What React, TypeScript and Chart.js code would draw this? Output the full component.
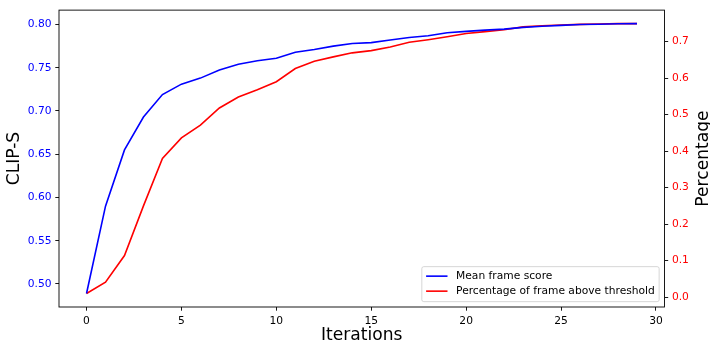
import React, { useEffect, useRef } from 'react';
import { Chart, registerables } from 'chart.js';

Chart.register(...registerables);

const ITERATIONS = [0, 1, 2, 3, 4, 5, 6, 7, 8, 9, 10, 11, 12, 13, 14, 15, 16, 17, 18, 19, 20, 21, 22, 23, 24, 25, 26, 27, 28, 29];
const MEAN_FRAME_SCORE = [0.489, 0.590, 0.655, 0.693, 0.719, 0.731, 0.738, 0.7475, 0.754, 0.758, 0.761, 0.768, 0.771, 0.775, 0.778, 0.779, 0.782, 0.785, 0.787, 0.7905, 0.792, 0.7935, 0.7946, 0.7966, 0.798, 0.799, 0.800, 0.8003, 0.8008, 0.801];
const PCT_ABOVE = [0.010, 0.041, 0.114, 0.250, 0.380, 0.436, 0.471, 0.518, 0.548, 0.568, 0.590, 0.626, 0.646, 0.658, 0.669, 0.675, 0.685, 0.698, 0.705, 0.713, 0.722, 0.727, 0.732, 0.740, 0.743, 0.745, 0.747, 0.748, 0.749, 0.749];
const X_TICKS = [0, 5, 10, 15, 20, 25, 30];
const LEFT_TICKS = [0.5, 0.55, 0.6, 0.65, 0.7, 0.75, 0.8];
const RIGHT_TICKS = [0, 0.1, 0.2, 0.3, 0.4, 0.5, 0.6, 0.7];
const SERIES_LABELS = ['Mean frame score', 'Percentage of frame above threshold'];
const X_TITLE = 'Iterations';
const LEFT_TITLE = 'CLIP-S';
const RIGHT_TITLE = 'Percentage';

const FONT = '"DejaVu Sans", sans-serif';
const TICK_SIZE = 10.7;
const TITLE_SIZE = 17.1;
const BLUE = '#0000ff';
const RED = '#ff0000';

function autoRange(arr: number[]): [number, number] {
  const mn = Math.min(...arr);
  const mx = Math.max(...arr);
  const r = mx - mn;
  return [mn - 0.05 * r, mx + 0.05 * r];
}

const framePlugin = {
  id: 'frame',
  afterDatasetsDraw(chart: any) {
    const { ctx, chartArea } = chart;
    ctx.save();
    ctx.strokeStyle = '#000';
    ctx.lineWidth = 0.9;
    ctx.strokeRect(chartArea.left, chartArea.top, chartArea.right - chartArea.left, chartArea.bottom - chartArea.top);
    ctx.restore();
  },
};

const rightTitlePlugin = {
  id: 'rightTitle',
  afterDraw(chart: any) {
    const { ctx, chartArea } = chart;
    ctx.save();
    ctx.font = `${TITLE_SIZE}px ${FONT}`;
    ctx.fillStyle = '#000';
    ctx.textAlign = 'center';
    ctx.textBaseline = 'middle';
    ctx.translate(704, (chartArea.top + chartArea.bottom) / 2);
    ctx.rotate(-Math.PI / 2);
    ctx.fillText(RIGHT_TITLE, 0, 0);
    ctx.restore();
  },
};

const legendPlugin = {
  id: 'boxLegend',
  afterDraw(chart: any) {
    const { ctx, chartArea } = chart;
    const fs = TICK_SIZE;
    const pad = 0.4 * fs;
    const handle = 2 * fs;
    const textPad = 0.8 * fs;
    const axPad = 0.5 * fs;
    const rowH = 15;
    ctx.save();
    ctx.font = `${fs}px ${FONT}`;
    const ds = chart.data.datasets;
    const maxW = Math.max(...ds.map((d: any) => ctx.measureText(d.label).width));
    const w = pad + handle + textPad + maxW + pad;
    const h = 35;
    const right = chartArea.right - axPad;
    const bottom = chartArea.bottom - axPad;
    const left = right - w;
    const top = bottom - h;
    const r = 2;
    ctx.beginPath();
    ctx.moveTo(left + r, top);
    ctx.lineTo(right - r, top);
    ctx.arcTo(right, top, right, top + r, r);
    ctx.lineTo(right, bottom - r);
    ctx.arcTo(right, bottom, right - r, bottom, r);
    ctx.lineTo(left + r, bottom);
    ctx.arcTo(left, bottom, left, bottom - r, r);
    ctx.lineTo(left, top + r);
    ctx.arcTo(left, top, left + r, top, r);
    ctx.closePath();
    ctx.fillStyle = 'rgba(255,255,255,0.8)';
    ctx.fill();
    ctx.strokeStyle = 'rgba(204,204,204,0.8)';
    ctx.lineWidth = 1;
    ctx.stroke();
    ds.forEach((d: any, i: number) => {
      const cy = top + 9.5 + i * rowH;
      ctx.strokeStyle = d.borderColor;
      ctx.lineWidth = 1.6;
      ctx.beginPath();
      ctx.moveTo(left + pad, cy);
      ctx.lineTo(left + pad + handle, cy);
      ctx.stroke();
      ctx.fillStyle = '#000';
      ctx.textAlign = 'left';
      ctx.textBaseline = 'middle';
      ctx.fillText(d.label, left + pad + handle + textPad, cy);
    });
    ctx.restore();
  },
};

export default function App() {
  const ref = useRef<HTMLCanvasElement | null>(null);
  useEffect(() => {
    if (!ref.current) return;
    const [xMin, xMax] = autoRange(ITERATIONS);
    const [yMin, yMax] = autoRange(MEAN_FRAME_SCORE);
    const [y1Min, y1Max] = autoRange(PCT_ABOVE);
    const tickFont = { family: FONT, size: TICK_SIZE };
    const gridCfg = { drawOnChartArea: false, drawTicks: true, tickLength: 3.7, color: '#000', lineWidth: 0.9 };
    const chart = new Chart(ref.current, {
      type: 'line',
      data: {
        datasets: [
          {
            label: SERIES_LABELS[0],
            data: ITERATIONS.map((x, i) => ({ x, y: MEAN_FRAME_SCORE[i] })),
            yAxisID: 'y',
            borderColor: BLUE,
            backgroundColor: BLUE,
            borderWidth: 1.6,
            pointRadius: 0,
            tension: 0,
            fill: false,
          },
          {
            label: SERIES_LABELS[1],
            data: ITERATIONS.map((x, i) => ({ x, y: PCT_ABOVE[i] })),
            yAxisID: 'y1',
            borderColor: RED,
            backgroundColor: RED,
            borderWidth: 1.6,
            pointRadius: 0,
            tension: 0,
            fill: false,
          },
        ],
      },
      options: {
        animation: false,
        responsive: false,
        devicePixelRatio: 1,
        layout: { padding: { top: 7, left: 0, right: 0, bottom: 0 } },
        plugins: { legend: { display: false }, tooltip: { enabled: false } },
        scales: {
          x: {
            type: 'linear',
            position: 'bottom',
            min: xMin,
            max: xMax,
            afterBuildTicks: (s: any) => { s.ticks = X_TICKS.map((v) => ({ value: v })); },
            afterFit: (s: any) => { s.height = 38; },
            ticks: { font: tickFont, color: '#000', padding: 3.7, maxRotation: 0, autoSkip: false, callback: (v: any) => String(v) },
            grid: gridCfg,
            border: { display: false },
            title: { display: true, text: X_TITLE, color: '#000', font: { family: FONT, size: TITLE_SIZE, lineHeight: 1.1 }, padding: { top: 0, bottom: 0 } },
          },
          y: {
            type: 'linear',
            position: 'left',
            min: yMin,
            max: yMax,
            afterBuildTicks: (s: any) => { s.ticks = LEFT_TICKS.map((v) => ({ value: v })); },
            afterFit: (s: any) => { s.width = 59; },
            ticks: { font: tickFont, color: BLUE, padding: 3.7, autoSkip: false, callback: (v: any) => Number(v).toFixed(2) },
            grid: gridCfg,
            border: { display: false },
            title: { display: true, text: LEFT_TITLE, color: '#000', font: { family: FONT, size: TITLE_SIZE, lineHeight: 1.1 }, padding: { top: 4.7, bottom: 0 } },
          },
          y1: {
            type: 'linear',
            position: 'right',
            min: y1Min,
            max: y1Max,
            afterBuildTicks: (s: any) => { s.ticks = RIGHT_TICKS.map((v) => ({ value: v })); },
            afterFit: (s: any) => { s.width = 45.5; },
            ticks: { font: tickFont, color: RED, padding: 3.7, autoSkip: false, callback: (v: any) => Number(v).toFixed(1) },
            grid: gridCfg,
            border: { display: false },
          },
        },
      } as any,
      plugins: [framePlugin, rightTitlePlugin, legendPlugin],
    });
    return () => chart.destroy();
  }, []);
  return (
    <div style={{ position: 'absolute', left: 0, top: 0, width: 710, height: 345, background: '#fff' }}>
      <canvas ref={ref} width={710} height={345} style={{ display: 'block' }} />
    </div>
  );
}
